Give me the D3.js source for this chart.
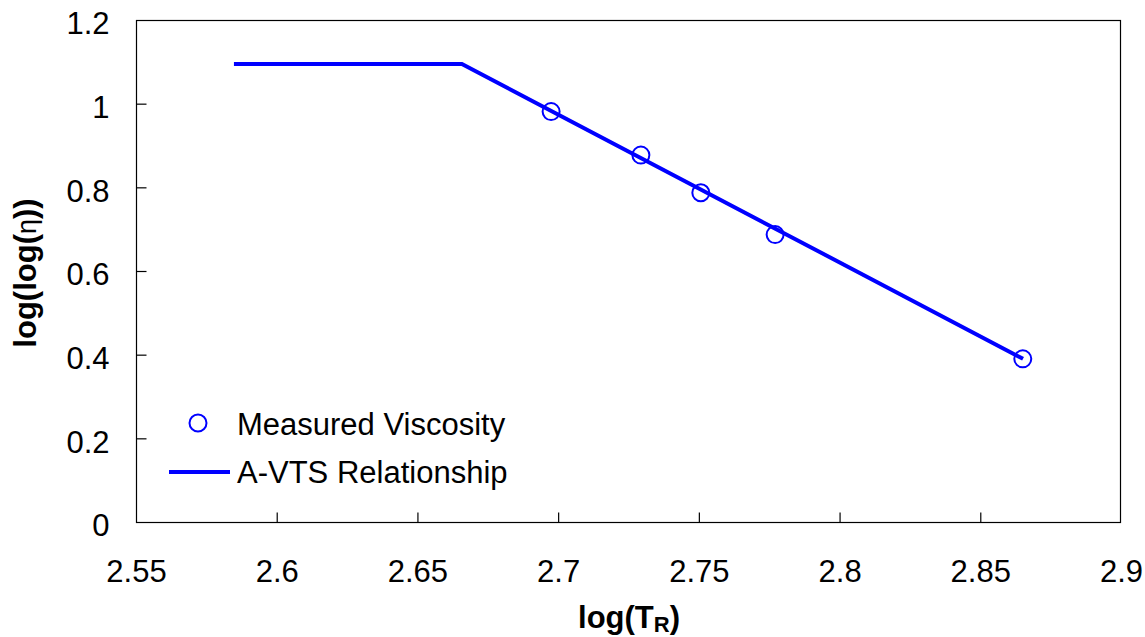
<!DOCTYPE html>
<html>
<head>
<meta charset="utf-8">
<script src="https://cdn.jsdelivr.net/npm/d3@7"></script>
<style>
  body { margin: 0; background: #fff; }
  svg { display: block; font-family: "Liberation Sans", Arial, sans-serif; }
</style>
</head>
<body>
<svg id="chart" width="1145" height="637"></svg>
<script>
// measured points
const measuredX = [2.6975, 2.7294, 2.7507, 2.7771, 2.8651];
const measuredY = [0.981, 0.877, 0.787, 0.687, 0.390];

// A-VTS relationship (plateau then straight line)
const fitX = [2.5848, 2.6658, 2.8652];
const fitY = [1.095, 1.095, 0.390];

const xTicks = [2.55, 2.6, 2.65, 2.7, 2.75, 2.8, 2.85, 2.9];
const yTicks = [0, 0.2, 0.4, 0.6, 0.8, 1, 1.2];

const blue = '#0000ff';
const fs = 31;
const svg = d3.select('#chart');
const plotL = 136, plotR = 1120, plotT = 20, plotB = 522;

const x = d3.scaleLinear().domain([2.55, 2.9]).range([plotL, 1121]);
const y = d3.scaleLinear().domain([0, 1.2]).range([plotB, plotT]);

// frame
svg.append('rect')
  .attr('x', plotL + 0.5).attr('y', plotT + 0.5)
  .attr('width', plotR - plotL).attr('height', plotB - plotT)
  .attr('fill', 'none').attr('stroke', '#000').attr('stroke-width', 1.2);

// x axis: ticks point inward
const xAxis = svg.append('g')
  .attr('transform', `translate(0,${plotB + 0.5})`)
  .call(d3.axisBottom(x).tickValues(xTicks).tickSize(-10).tickPadding(37)
    .tickFormat(d3.format('')));
xAxis.select('.domain').remove();
xAxis.selectAll('.tick line').attr('stroke', '#000').attr('stroke-width', 1.2)
  .filter(d => d === 2.55 || d === 2.9).remove();
xAxis.selectAll('text').attr('font-size', fs).attr('fill', '#000')
  .attr('dy', '0.71em');

// y axis
const yAxis = svg.append('g')
  .attr('transform', `translate(${plotL + 0.5},0)`)
  .call(d3.axisLeft(y).tickValues(yTicks).tickSize(-10).tickPadding(27)
    .tickFormat(d3.format('')));
yAxis.select('.domain').remove();
yAxis.selectAll('.tick line').attr('stroke', '#000').attr('stroke-width', 1.2)
  .filter(d => d === 0 || d === 1.2).remove();
yAxis.selectAll('text').attr('font-size', fs).attr('fill', '#000')
  .attr('dy', '0.45em');

// fit line
const line = d3.line().x(d => x(d[0])).y(d => y(d[1]));
svg.append('path')
  .datum(d3.zip(fitX, fitY))
  .attr('d', line)
  .attr('fill', 'none').attr('stroke', blue).attr('stroke-width', 4);

// measured circles
svg.append('g').selectAll('circle')
  .data(d3.zip(measuredX, measuredY))
  .join('circle')
  .attr('cx', d => x(d[0])).attr('cy', d => y(d[1])).attr('r', 8.5)
  .attr('fill', 'none').attr('stroke', blue).attr('stroke-width', 2);

// legend
const lg = svg.append('g');
lg.append('circle').attr('cx', 198).attr('cy', 423).attr('r', 8.5)
  .attr('fill', 'none').attr('stroke', blue).attr('stroke-width', 2);
lg.append('text').attr('x', 237).attr('y', 435).attr('font-size', fs)
  .text('Measured Viscosity');
lg.append('line').attr('x1', 169).attr('x2', 230).attr('y1', 472).attr('y2', 472)
  .attr('stroke', blue).attr('stroke-width', 4);
lg.append('text').attr('x', 237).attr('y', 483).attr('font-size', fs)
  .text('A-VTS Relationship');

// axis titles
const xt = svg.append('text').attr('x', 629).attr('y', 628)
  .attr('text-anchor', 'middle').attr('font-size', fs).attr('font-weight', 'bold');
xt.append('tspan').text('log(T');
xt.append('tspan').attr('font-size', 22).attr('dy', 4).text('R');
xt.append('tspan').attr('dy', -4).text(')');

const yt = svg.append('text')
  .attr('transform', 'translate(36,273) rotate(-90)')
  .attr('text-anchor', 'middle').attr('font-size', fs).attr('font-weight', 'bold');
yt.append('tspan').text('log(log(');
yt.append('tspan').attr('font-weight', 'normal').attr('font-size', 27).text('η');
yt.append('tspan').text('))');
</script>
</body>
</html>
